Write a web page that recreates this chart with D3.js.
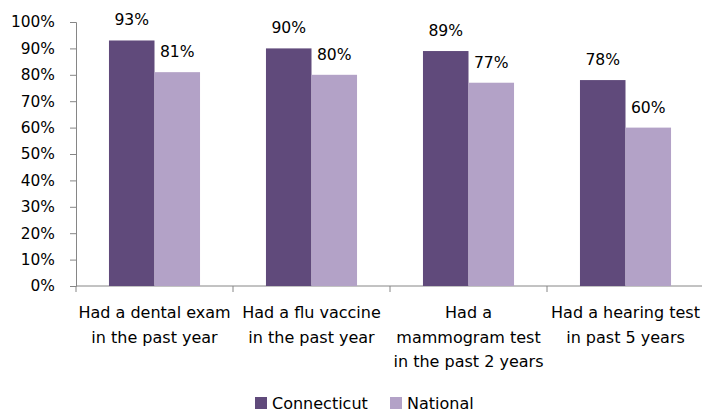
<!DOCTYPE html>
<html>
<head>
<meta charset="utf-8">
<script src="https://cdn.jsdelivr.net/npm/d3@7"></script>
<style>
  body { margin: 0; background: #fff; }
  text { font-family: "DejaVu Sans", "Open Sans", sans-serif; fill: #000; }
</style>
</head>
<body>
<div id="chart"></div>
<script>
// data
var categories = [
    ["Had a dental exam", "in the past year"],
    ["Had a flu vaccine", "in the past year"],
    ["Had a", "mammogram test", "in the past 2 years"],
    ["Had a hearing test", "in past 5 years"]
];
var seriesNames = ["Connecticut", "National"];
var connecticut = [93, 90, 89, 78];
var national = [81, 80, 77, 60];
var yTicks = [0, 10, 20, 30, 40, 50, 60, 70, 80, 90, 100];

var colors = ["#604a7b", "#b3a2c7"];

var margin = { left: 76, right: -2, top: 22, bottom: 126 };
var W = 702, H = 412;
var width = W - margin.left - margin.right,
    height = H - margin.top - margin.bottom;

var svg = d3.select("#chart").append("svg")
    .attr("width", W)
    .attr("height", H)
  .append("g")
    .attr("transform", "translate(" + margin.left + "," + margin.top + ")");

var x = d3.scaleBand()
    .domain(d3.range(categories.length))
    .range([0, width])
    .paddingInner(0.42)
    .paddingOuter(0.21);

var x1 = d3.scaleBand()
    .domain([0, 1])
    .range([0, x.bandwidth()]);

var y = d3.scaleLinear()
    .domain([0, 100])
    .range([height, 0]);

// y axis
var yAxis = svg.append("g")
    .call(d3.axisLeft(y).tickValues(yTicks).tickSize(6).tickPadding(15)
        .tickFormat(function(d){ return d + "%"; }));
yAxis.select(".domain").attr("stroke", "#868686");
yAxis.selectAll(".tick line").attr("stroke", "#868686");
yAxis.selectAll("text")
    .attr("font-size", "15.4px")
    .attr("font-family", "DejaVu Sans")
    .attr("fill", "#000");

// x axis (category boundaries)
var step = width / categories.length;
var xAxis = svg.append("g").attr("transform", "translate(0," + height + ")");
xAxis.append("line")
    .attr("x1", 0).attr("x2", width)
    .attr("stroke", "#868686");
xAxis.selectAll(".sep")
    .data(d3.range(categories.length + 1))
  .enter().append("line")
    .attr("x1", function(d){ return d * step; })
    .attr("x2", function(d){ return d * step; })
    .attr("y1", 0).attr("y2", 6)
    .attr("stroke", "#868686");

xAxis.selectAll(".cat")
    .data(categories)
  .enter().append("text")
    .attr("text-anchor", "middle")
    .attr("font-size", "16px")
    .attr("transform", function(d, i){ return "translate(" + (x(i) + x.bandwidth() / 2) + ",0)"; })
    .each(function(lines){
        var t = d3.select(this);
        lines.forEach(function(l, j){
            t.append("tspan").attr("x", 0).attr("y", 32 + j * 24.5).text(l);
        });
    });

// bars
var series = [connecticut, national];
series.forEach(function(values, s){
    svg.selectAll(".bar" + s)
        .data(values)
      .enter().append("rect")
        .attr("x", function(d, i){ return x(i) + x1(s); })
        .attr("y", function(d){ return y(d); })
        .attr("width", x1.bandwidth())
        .attr("height", function(d){ return height - y(d); })
        .attr("fill", colors[s]);

    svg.selectAll(".lbl" + s)
        .data(values)
      .enter().append("text")
        .attr("x", function(d, i){ return x(i) + x1(s) + x1.bandwidth() / 2; })
        .attr("y", function(d){ return y(d) - 15; })
        .attr("text-anchor", "middle")
        .attr("font-size", "15.6px")
        .text(function(d){ return d + "%"; });
});

// legend
var legendX = [255 - margin.left, 390 - margin.left];
var legend = svg.append("g").attr("transform", "translate(0," + (397 - margin.top) + ")");
seriesNames.forEach(function(name, i){
    var row = legend.append("g").attr("transform", "translate(" + legendX[i] + ",0)");
    row.append("rect")
        .attr("width", 12).attr("height", 12)
        .attr("fill", colors[i]);
    row.append("text")
        .attr("x", 17).attr("y", 11.5)
        .attr("font-size", "16px")
        .text(name);
});
</script>
</body>
</html>
